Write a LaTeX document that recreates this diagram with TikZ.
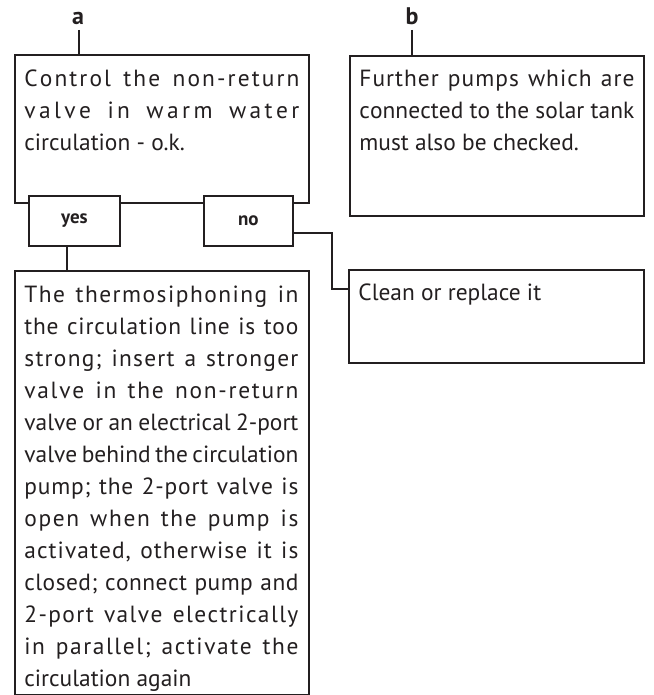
\documentclass[tikz,border=0pt]{standalone}
\usepackage{fontspec}
\setmainfont{PT Sans}
\definecolor{ink}{HTML}{231F20}
\newcommand\jlsp{\hskip 0.26em plus 1fil minus 0.08em\relax}
\ExplSyntaxOn
\tl_new:N \l_jl_tl
\NewDocumentCommand \jl { m }
  {
    \tl_set:Nn \l_jl_tl {#1}
    \tl_replace_all:Nnn \l_jl_tl { ~ } { \jlsp }
    \makebox[\linewidth][s]
      {
        \hskip 0pt plus -1fil \relax
        \tl_map_inline:Nn \l_jl_tl { \hskip 0pt plus 1fil \relax ##1 }
      }
    \par
  }
\ExplSyntaxOff
\begin{document}
\begin{tikzpicture}[x=0.5pt,y=-0.5pt,
  box/.style={draw=ink, line width=0.9pt, fill=white, rectangle, inner sep=0pt, anchor=north west},
  body/.style={anchor=base west, inner sep=0pt, text=ink, font=\fontsize{11.7pt}{16pt}\selectfont},
  tag/.style={text=ink, font=\fontsize{9.5pt}{11pt}\selectfont\bfseries},
  lbl/.style={anchor=base, inner sep=0pt, text=ink, font=\fontsize{12pt}{14pt}\selectfont\bfseries},
  link/.style={draw=ink, line width=0.9pt}]
\useasboundingbox (0,0) rectangle (653,695);
\fill[white] (0,0) rectangle (653,695);
% boxes
\node[box, minimum width=147pt, minimum height=74pt] (A) at (14,54) {};
\node[box, minimum width=147pt, minimum height=80pt] (B) at (349,55) {};
\node[box, minimum width=147pt, minimum height=212pt] (C) at (14,270) {};
\node[box, minimum width=147.5pt, minimum height=46.5pt] (D) at (348,269) {};
\node[box, tag, minimum width=45.5pt, minimum height=25pt] (yes) at (28,195) {yes};
\node[box, tag, minimum width=44.5pt, minimum height=25pt] (no) at (203,195) {no};
% labels
\node[lbl] (la) at (78,25) {a};
\node[lbl] (lb) at (412,25) {b};
\coordinate (ta) at (79,30);
\coordinate (tb) at (412,30);
\draw[link] (ta) -- (ta |- A.north);
\draw[link] (tb) -- (tb |- B.north);
% connectors
\coordinate (yx) at (67,0);
\draw[link] (yx |- yes.south) -- (yx |- C.north);
\coordinate (nb) at (332,233);
\coordinate (nd) at (332,289);
\draw[link] (no.east |- nb) -- (nb) -- (nd) -- (D.west |- nd);
% texts
\node[body] (At) at (24,87) {\parbox[t]{137.5pt}{\jl{Control the non-return}\jl{valve in warm water}circulation - o.k.}};
\node[body] (Bt) at (359,87) {\parbox[t]{137.5pt}{\jl{Further pumps which are}\jl{connected to the solar tank}must also be checked.}};
\node[body] (Dt) at (358,300) {\parbox[t]{137.5pt}{Clean or replace it}};
\node[body] (Ct) at (24,302) {\parbox[t]{137pt}{%
\jl{The thermosiphoning in}%
\jl{the circulation line is too}%
\jl{strong; insert a stronger}%
\jl{valve in the non-return}%
\jl{valve or an electrical 2-port}%
\jl{valve behind the circulation}%
\jl{pump; the 2-port valve is}%
\jl{open when the pump is}%
\jl{activated, otherwise it is}%
\jl{closed; connect pump and}%
\jl{2-port valve electrically}%
\jl{in parallel; activate the}%
circulation again}};
\end{tikzpicture}
\end{document}
